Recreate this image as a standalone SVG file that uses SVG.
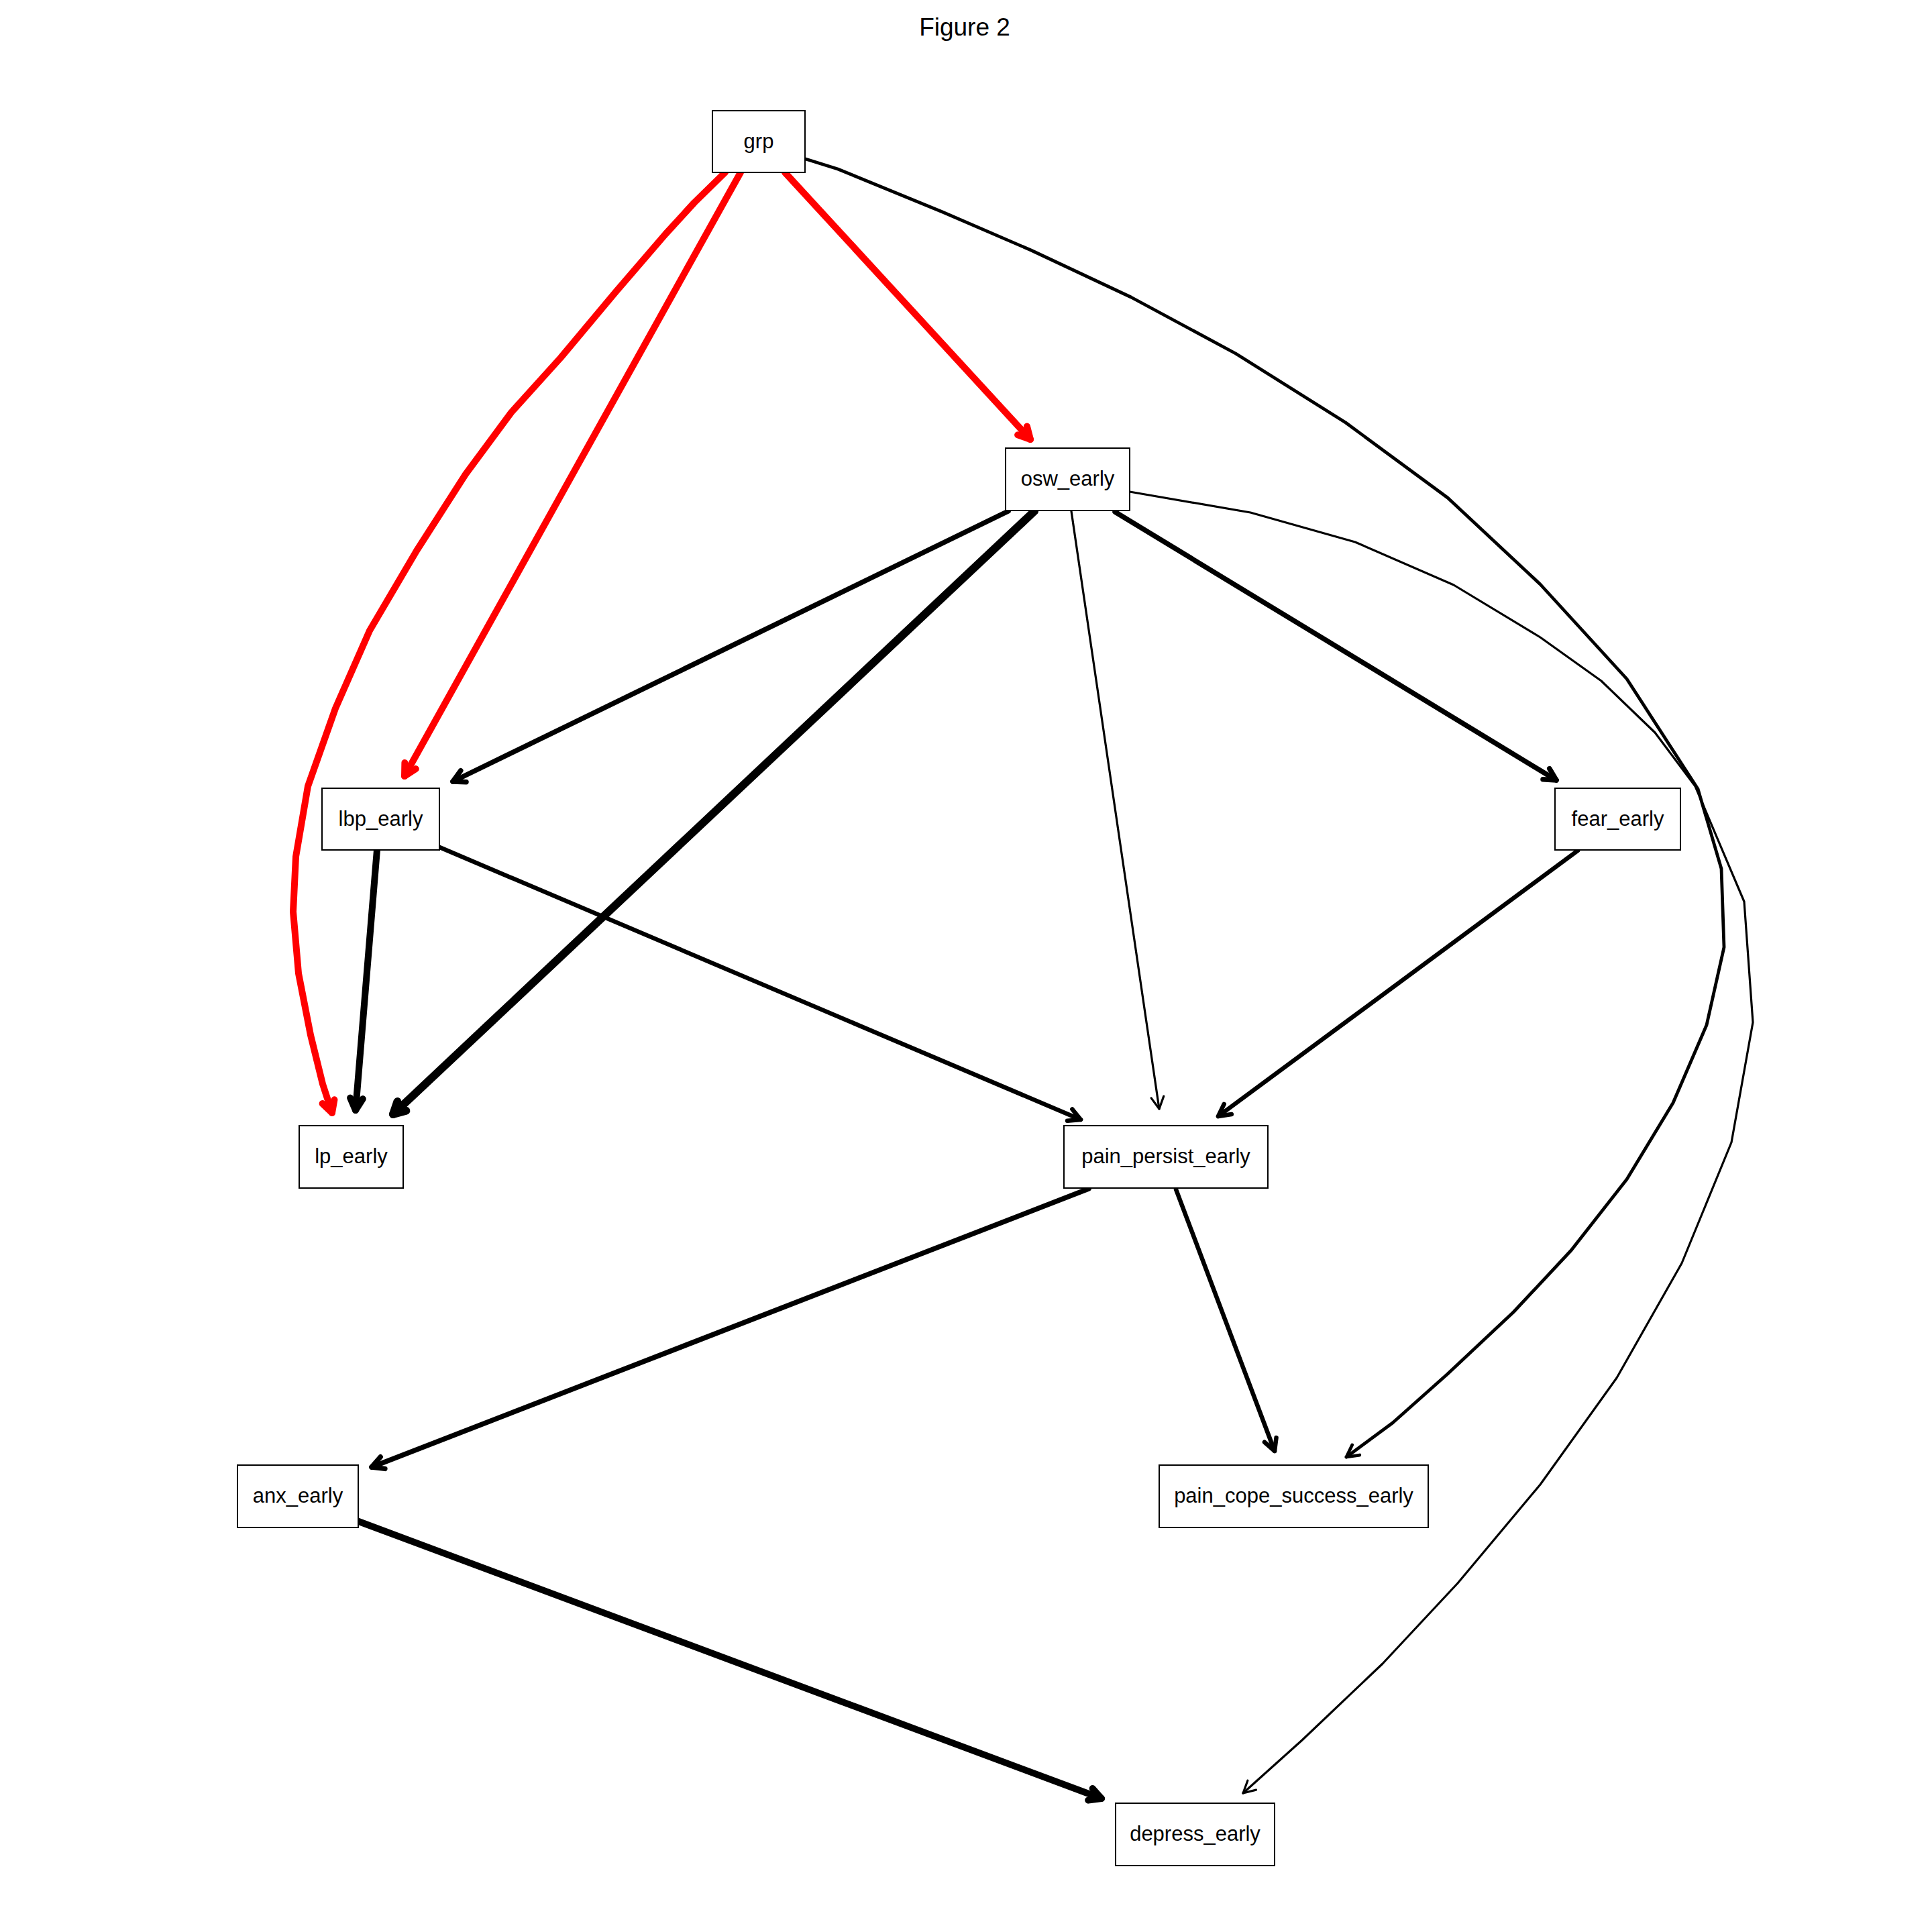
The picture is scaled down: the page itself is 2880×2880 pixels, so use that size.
<svg xmlns="http://www.w3.org/2000/svg" width="2880" height="2880" viewBox="0 0 2880 2880">
  <style>
    .title { font-family: "Liberation Sans", Arial, sans-serif; font-size: 37px; fill: #000; text-anchor: middle; }
    .node rect { fill: #fff; stroke: #000; stroke-width: 2; }
    .node text { font-family: "Liberation Sans", Arial, sans-serif; font-size: 31px; fill: #000; text-anchor: middle; }
    .edge { fill: none; stroke: #000; stroke-linecap: round; stroke-linejoin: round; }
    .head { fill: none; stroke-linecap: round; stroke-linejoin: round; }
    .red { stroke: #ff0000; }
    .w3 { stroke-width: 3.2; marker-end: url(#ah-w3); }
    .w45 { stroke-width: 4.8; marker-end: url(#ah-w45); }
    .w6 { stroke-width: 6.5; marker-end: url(#ah-w6); }
    .w7 { stroke-width: 7.5; marker-end: url(#ah-w7); }
    .w9 { stroke-width: 10; marker-end: url(#ah-w9); }
    .w10 { stroke-width: 12; marker-end: url(#ah-w10); }
    .wr { stroke-width: 10; marker-end: url(#ah-red); }
  </style>
  <defs>
    <!-- open V arrowheads, fixed size, one per line weight -->
    <marker id="ah-w3" markerUnits="userSpaceOnUse" orient="auto" overflow="visible" markerWidth="1" markerHeight="1">
      <path class="head" d="M-17.7,-9.4 L0,0 L-17.7,9.4" stroke="#000" stroke-width="3.2"/>
    </marker>
    <marker id="ah-w45" markerUnits="userSpaceOnUse" orient="auto" overflow="visible" markerWidth="1" markerHeight="1">
      <path class="head" d="M-17.7,-9.4 L0,0 L-17.7,9.4" stroke="#000" stroke-width="4.8"/>
    </marker>
    <marker id="ah-w6" markerUnits="userSpaceOnUse" orient="auto" overflow="visible" markerWidth="1" markerHeight="1">
      <path class="head" d="M-17.7,-9.4 L0,0 L-17.7,9.4" stroke="#000" stroke-width="6.5"/>
    </marker>
    <marker id="ah-w7" markerUnits="userSpaceOnUse" orient="auto" overflow="visible" markerWidth="1" markerHeight="1">
      <path class="head" d="M-17.7,-9.4 L0,0 L-17.7,9.4" stroke="#000" stroke-width="7.5"/>
    </marker>
    <marker id="ah-w9" markerUnits="userSpaceOnUse" orient="auto" overflow="visible" markerWidth="1" markerHeight="1">
      <path class="head" d="M-17.7,-9.4 L0,0 L-17.7,9.4" stroke="#000" stroke-width="10"/>
    </marker>
    <marker id="ah-w10" markerUnits="userSpaceOnUse" orient="auto" overflow="visible" markerWidth="1" markerHeight="1">
      <path class="head" d="M-17.7,-9.4 L0,0 L-17.7,9.4" stroke="#000" stroke-width="12"/>
    </marker>
    <marker id="ah-red" markerUnits="userSpaceOnUse" orient="auto" overflow="visible" markerWidth="1" markerHeight="1">
      <path class="head" d="M-17.7,-9.4 L0,0 L-17.7,9.4" stroke="#ff0000" stroke-width="10"/>
    </marker>
  </defs>

  <rect x="0" y="0" width="2880" height="2880" fill="#fff"/>

  <text class="title" x="1438" y="53">Figure 2</text>

  <g id="connectors">
    <!-- grp -> lp_early (curved) -->
    <polyline class="edge red wr" points="1081,257 1035,302 992,349 918,435 836,533 762,615 694,707 621,821 551,940 500,1056 459,1172 441,1277 437,1359 445,1451 463,1543 481,1616 495,1659"/>
    <!-- grp -> lbp_early -->
    <line class="edge red wr" x1="1104" y1="257" x2="603" y2="1157"/>
    <!-- grp -> osw_early -->
    <line class="edge red wr" x1="1170" y1="257" x2="1536" y2="655"/>
    <!-- grp -> pain_cope_success_early (curved) -->
    <polyline class="edge w45" points="1201,237 1249,252 1405,316 1537,373 1686,443 1842,527 2006,630 2158,742 2296,871 2425,1012 2531,1176 2566,1295 2570,1412 2544,1528 2494,1644 2425,1758 2342,1864 2256,1956 2158,2048 2076,2121 2007,2172"/>
    <!-- osw_early -> depress_early (curved) -->
    <polyline class="edge w3" points="1684,733 1864,764 2020,808 2167,872 2296,950 2387,1015 2467,1092 2527,1172 2600,1344 2613,1524 2581,1703 2507,1883 2410,2054 2296,2213 2173,2360 2061,2480 1941,2594 1853,2673"/>
    <!-- osw_early -> lbp_early -->
    <line class="edge w7" x1="1503" y1="762" x2="675" y2="1165"/>
    <!-- osw_early -> lp_early -->
    <line class="edge w10" x1="1542" y1="762" x2="586" y2="1661"/>
    <!-- osw_early -> pain_persist_early -->
    <line class="edge w3" x1="1597" y1="762" x2="1728" y2="1653"/>
    <!-- osw_early -> fear_early -->
    <line class="edge w7" x1="1662" y1="763" x2="2320" y2="1163"/>
    <!-- lbp_early -> lp_early -->
    <line class="edge w9" x1="562" y1="1267" x2="530" y2="1655"/>
    <!-- lbp_early -> pain_persist_early -->
    <line class="edge w6" x1="653" y1="1262" x2="1611" y2="1669"/>
    <!-- fear_early -> pain_persist_early -->
    <line class="edge w6" x1="2352" y1="1268" x2="1816" y2="1664"/>
    <!-- pain_persist_early -> anx_early -->
    <line class="edge w7" x1="1623" y1="1772" x2="554" y2="2187"/>
    <!-- pain_persist_early -> pain_cope_success_early -->
    <line class="edge w6" x1="1753" y1="1773" x2="1900" y2="2163"/>
    <!-- anx_early -> depress_early -->
    <line class="edge w9" x1="532" y1="2267" x2="1642" y2="2681"/>
  </g>

  <g id="grp" class="node">
    <rect x="1062" y="165" width="138" height="92"/>
    <text x="1131" y="221">grp</text>
  </g>
  <g id="osw_early" class="node">
    <rect x="1499" y="668" width="185" height="93"/>
    <text x="1591.5" y="724">osw_early</text>
  </g>
  <g id="lbp_early" class="node">
    <rect x="480" y="1175" width="175" height="92"/>
    <text x="567.5" y="1231">lbp_early</text>
  </g>
  <g id="fear_early" class="node">
    <rect x="2318" y="1175" width="187" height="92"/>
    <text x="2411.5" y="1231">fear_early</text>
  </g>
  <g id="lp_early" class="node">
    <rect x="446" y="1678" width="155" height="93"/>
    <text x="523.5" y="1734">lp_early</text>
  </g>
  <g id="pain_persist_early" class="node">
    <rect x="1586" y="1678" width="304" height="93"/>
    <text x="1738" y="1734">pain_persist_early</text>
  </g>
  <g id="anx_early" class="node">
    <rect x="354" y="2184" width="180" height="93"/>
    <text x="444" y="2240">anx_early</text>
  </g>
  <g id="pain_cope_success_early" class="node">
    <rect x="1728" y="2184" width="401" height="93"/>
    <text x="1928.5" y="2240">pain_cope_success_early</text>
  </g>
  <g id="depress_early" class="node">
    <rect x="1663" y="2688" width="237" height="93"/>
    <text x="1781.5" y="2744">depress_early</text>
  </g>
</svg>
